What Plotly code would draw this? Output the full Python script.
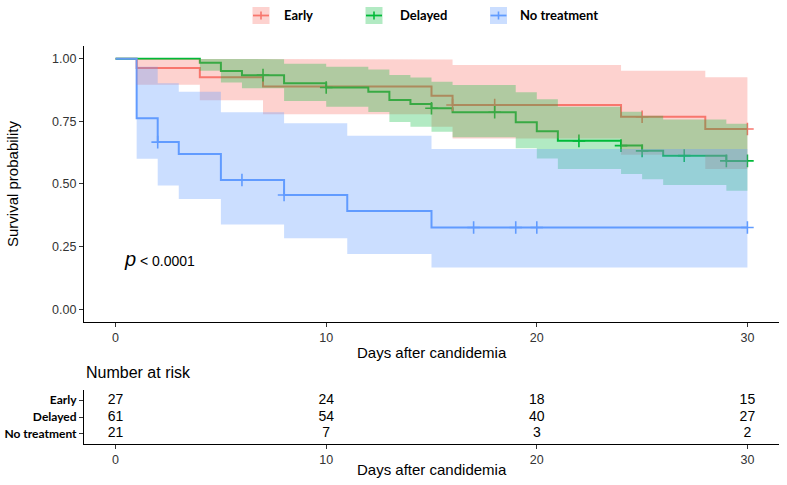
import plotly.graph_objects as go

W, H = 787, 485

# ---------------- data ----------------
end_day = 30

early_days = [0, 1, 4, 7, 15, 16, 24, 28]
early_surv = [1.0, 0.963, 0.926, 0.889, 0.852, 0.815, 0.768, 0.719]
early_upper = [1.0, 1.0, 1.0, 1.0, 0.997, 0.975, 0.952, 0.926]
early_lower = [1.0, 0.896, 0.834, 0.778, 0.728, 0.681, 0.617, 0.560]
early_censor = [16, 18, 25, 30]

delayed_days = [0, 4, 5, 6, 8, 10, 12, 13, 14, 15, 16, 19, 20, 21, 24, 25, 26, 29]
delayed_surv = [1.0, 0.984, 0.951, 0.934, 0.902, 0.885, 0.868, 0.835, 0.819, 0.802,
                0.786, 0.746, 0.710, 0.672, 0.653, 0.632, 0.613, 0.592]
delayed_upper = [1.0, 1.0, 1.0, 0.998, 0.980, 0.968, 0.957, 0.935, 0.925, 0.908,
                 0.895, 0.866, 0.838, 0.808, 0.788, 0.772, 0.757, 0.740]
delayed_lower = [1.0, 0.952, 0.905, 0.882, 0.831, 0.808, 0.787, 0.747, 0.728, 0.708,
                 0.686, 0.642, 0.602, 0.560, 0.540, 0.519, 0.496, 0.473]
delayed_censor = [7, 10, 15, 18, 22, 24, 25, 27, 29, 30]

none_days = [0, 1, 2, 3, 5, 8, 11, 15]
none_surv = [1.0, 0.762, 0.667, 0.619, 0.516, 0.456, 0.392, 0.326]
none_upper = [1.0, 0.968, 0.902, 0.868, 0.786, 0.742, 0.692, 0.639]
none_lower = [1.0, 0.601, 0.494, 0.440, 0.338, 0.283, 0.221, 0.167]
none_censor = [2, 6, 8, 17, 19, 20, 30]

groups = ["Early", "Delayed", "No treatment"]
risk_days = [0, 10, 20, 30]
risk_early = [27, 24, 18, 15]
risk_delayed = [61, 54, 40, 27]
risk_none = [21, 7, 3, 2]

x_ticks = [0, 10, 20, 30]
x_ticklabels = ["0", "10", "20", "30"]
y_ticks = [0, 0.25, 0.5, 0.75, 1.0]
y_ticklabels = ["0.00", "0.25", "0.50", "0.75", "1.00"]

# ---------------- styling ----------------
COL = {"Early": "#F8766D", "Delayed": "#00BA38", "No treatment": "#619CFF"}
FILL = {"Early": "rgba(248,118,109,0.33)", "Delayed": "rgba(0,186,56,0.30)",
        "No treatment": "rgba(97,156,255,0.33)"}
FONT = "Liberation Sans"
BOLD_FONT = "Lato"


def px_x(p):
    return p / W


def px_y(p):
    return 1 - p / H


def step_xy(t, v, end):
    xs, ys = [], []
    for i, (ti, vi) in enumerate(zip(t, v)):
        tn = t[i + 1] if i + 1 < len(t) else end
        xs += [ti, tn]
        ys += [vi, vi]
    return xs, ys


def value_at(t, v, x):
    val = v[0]
    for ti, vi in zip(t, v):
        if ti <= x:
            val = vi
    return val


series = [
    ("Early", early_days, early_surv, early_upper, early_lower, early_censor),
    ("Delayed", delayed_days, delayed_surv, delayed_upper, delayed_lower, delayed_censor),
    ("No treatment", none_days, none_surv, none_upper, none_lower, none_censor),
]

fig = go.Figure()

# survival step lines
for name, t, s, up, lo, cen in series:
    xs, ys = step_xy(t, s, end_day)
    fig.add_trace(go.Scatter(x=xs, y=ys, mode="lines", line=dict(color=COL[name], width=2),
                             showlegend=False, hoverinfo="skip", xaxis="x", yaxis="y"))

# censor marks
for name, t, s, up, lo, cen in series:
    fig.add_trace(go.Scatter(x=cen, y=[value_at(t, s, c) for c in cen], mode="markers",
                             marker=dict(symbol="cross-thin", size=9,
                                         line=dict(color=COL[name], width=1.6)),
                             showlegend=False, hoverinfo="skip", xaxis="x", yaxis="y"))

# confidence bands (drawn on top, as in the reference)
for name, t, s, up, lo, cen in series:
    ux, uy = step_xy(t, up, end_day)
    lx, ly = step_xy(t, lo, end_day)
    fig.add_trace(go.Scatter(x=ux + lx[::-1], y=uy + ly[::-1], mode="lines", fill="toself",
                             fillcolor=FILL[name], line=dict(width=0),
                             showlegend=False, hoverinfo="skip", xaxis="x", yaxis="y"))

# risk table numbers
row_pos = {"Early": 3, "Delayed": 2, "No treatment": 1}
for name, vals in zip(groups, [risk_early, risk_delayed, risk_none]):
    fig.add_trace(go.Scatter(x=risk_days, y=[row_pos[name]] * len(risk_days), mode="text",
                             text=[str(v) for v in vals],
                             textfont=dict(family=FONT, size=14, color="#000000"),
                             showlegend=False, hoverinfo="skip", xaxis="x2", yaxis="y2"))

x_dom = [px_x(84), px_x(779)]
axis_common = dict(showline=True, linecolor="#000000", linewidth=1.1, ticks="outside",
                   ticklen=4, tickwidth=1.1, tickcolor="#333333", showgrid=False,
                   zeroline=False, tickfont=dict(family=FONT, size=12.5, color="#333333"))

fig.update_layout(
    width=W, height=H, margin=dict(l=0, r=0, t=0, b=0),
    paper_bgcolor="white", plot_bgcolor="white", showlegend=False,
    xaxis=dict(domain=x_dom, range=[-1.5, 31.5], tickvals=x_ticks, ticktext=x_ticklabels,
               tickangle=0, anchor="y", **axis_common),
    yaxis=dict(domain=[px_y(321.8), px_y(46.1)], range=[-0.05, 1.05], tickvals=y_ticks,
               ticktext=y_ticklabels, anchor="x", **axis_common),
    xaxis2=dict(domain=x_dom, range=[-1.5, 31.5], tickvals=x_ticks, ticktext=x_ticklabels,
                tickangle=0, anchor="y2", **axis_common),
    yaxis2=dict(domain=[px_y(444), px_y(390)], range=[0.4, 3.6],
                tickvals=[row_pos[g] for g in groups], ticktext=groups, anchor="x2",
                showline=True, linecolor="#000000", linewidth=1.1, ticks="outside",
                ticklen=4, tickwidth=1.1, tickcolor="#333333", showgrid=False, zeroline=False,
                tickfont=dict(family=BOLD_FONT, size=12, color="#000000", weight="bold")),
)

ann = []
ann.append(dict(text="Survival probability", x=px_x(12), y=px_y(184), xref="paper", yref="paper",
                xanchor="center", yanchor="middle",
                textangle=-90, showarrow=False, font=dict(family=FONT, size=15, color="#000000")))
ann.append(dict(text="Days after candidemia", x=px_x(431.5), y=px_y(352), xref="paper",
                yref="paper", xanchor="center", yanchor="middle",
                showarrow=False, font=dict(family=FONT, size=15, color="#000000")))
ann.append(dict(text="Number at risk", x=px_x(84), y=px_y(372), xref="paper", yref="paper",
                xanchor="left", yanchor="middle",
                showarrow=False, font=dict(family=FONT, size=16, color="#000000")))
ann.append(dict(text="Days after candidemia", x=px_x(431.5), y=px_y(469), xref="paper",
                yref="paper", xanchor="center", yanchor="middle",
                showarrow=False, font=dict(family=FONT, size=15, color="#000000")))
ann.append(dict(text="<i><span style='font-size:20px'>p</span></i> < 0.0001", x=0.3, y=0.2,
                xref="x", yref="y", xanchor="left", yanchor="middle", showarrow=False,
                font=dict(family=FONT, size=14, color="#000000")))

# manual legend at the top
shapes = []
legend_items = [("Early", 261, 281.5), ("Delayed", 374, 398), ("No treatment", 498.5, 518)]
for name, cx, tx in legend_items:
    shapes.append(dict(type="rect", xref="paper", yref="paper",
                       x0=px_x(cx - 8.5), x1=px_x(cx + 8.5), y0=px_y(24), y1=px_y(7),
                       fillcolor=FILL[name], line=dict(width=0)))
    shapes.append(dict(type="line", xref="paper", yref="paper",
                       x0=px_x(cx - 8), x1=px_x(cx + 8), y0=px_y(15.5), y1=px_y(15.5),
                       line=dict(color=COL[name], width=1.8)))
    shapes.append(dict(type="line", xref="paper", yref="paper",
                       x0=px_x(cx), x1=px_x(cx), y0=px_y(11.5), y1=px_y(19.5),
                       line=dict(color=COL[name], width=1.6)))
    ann.append(dict(text="<b>%s</b>" % name, x=px_x(tx), y=px_y(15.5), xref="paper",
                    yref="paper", xanchor="left", yanchor="middle", showarrow=False,
                    font=dict(family=BOLD_FONT, size=13, color="#000000")))

fig.update_layout(annotations=ann, shapes=shapes)
fig.write_html("out.html", config={"displayModeBar": False},
               post_script="document.body.style.margin='0';document.body.style.padding='0';")
